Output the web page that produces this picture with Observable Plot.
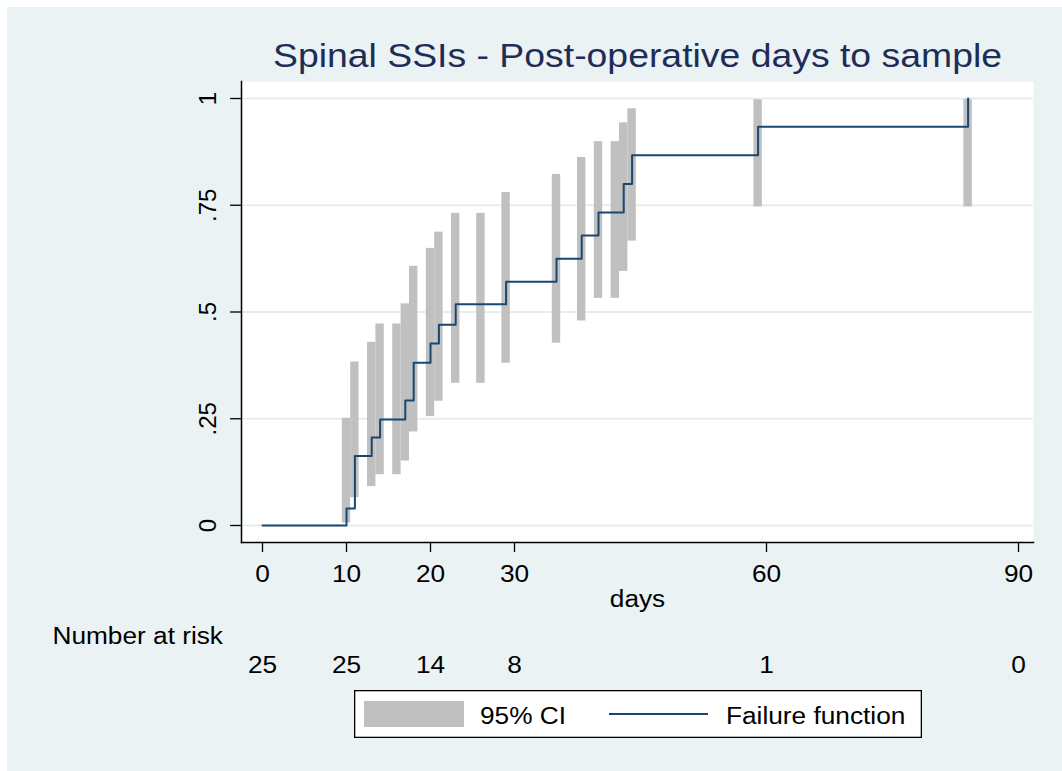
<!DOCTYPE html>
<html><head><meta charset="utf-8">
<script src="https://cdn.jsdelivr.net/npm/d3@7"></script>
<script src="https://cdn.jsdelivr.net/npm/@observablehq/plot@0.6"></script>
<style>
html,body{margin:0;padding:0;background:#fff;}
#wrap{position:absolute;left:7px;top:7px;width:1055px;height:764px;background:#eaf2f3;overflow:hidden;}
#chart{position:absolute;left:0;top:0;}
#legend{position:absolute;left:347px;top:683px;}
</style></head><body>
<div id="wrap"><div id="chart"></div><div id="legend"></div></div>
<script>
const title = "Spinal SSIs - Post-operative days to sample";
const xLabel = "days";
const riskLabel = "Number at risk";
const failTimes  = [0, 10, 11, 13, 14, 17, 18, 20, 21, 23, 29, 35, 38, 40, 43, 44, 59, 84];
const failValues = [0, 0.04, 0.163, 0.206, 0.248, 0.293, 0.381, 0.426, 0.470, 0.518, 0.571, 0.625, 0.679, 0.733, 0.800, 0.867, 0.934, 1.0];
const ciTimes = [10, 11, 13, 14, 16, 17, 18, 20, 21, 23, 26, 29, 35, 38, 40, 42, 43, 44, 59, 84];
const ciLower = [0.006, 0.065, 0.091, 0.119, 0.119, 0.151, 0.219, 0.255, 0.291, 0.333, 0.333, 0.380, 0.427, 0.479, 0.532, 0.532, 0.595, 0.666, 0.746, 0.746];
const ciUpper = [0.251, 0.383, 0.429, 0.472, 0.472, 0.519, 0.607, 0.649, 0.687, 0.731, 0.731, 0.780, 0.822, 0.862, 0.899, 0.899, 0.943, 0.976, 0.997, 0.998];
const xTicks = [0, 10, 20, 30, 60, 90];
const yTicks = [0, 0.25, 0.5, 0.75, 1];
const yTickLabels = ["0", ".25", ".5", ".75", "1"];
const riskTimes = [0, 10, 20, 30, 60, 90];
const riskCounts = [25, 25, 14, 8, 1, 0];
const legendLabels = ["95% CI", "Failure function"];

const font = "'Liberation Sans', Arial, Helvetica, sans-serif";
const navy = "#1a476f";
const ciGray = "#c0c0c0";
const FS = 23;
const failData = failTimes.map((t, i) => ({t, f: failValues[i]}));
const ciData = ciTimes.map((t, i) => ({t, lo: ciLower[i], hi: ciUpper[i]}));

const plot = Plot.plot({
  width: 1055, height: 676,
  marginLeft: 234, marginRight: 29, marginTop: 74, marginBottom: 141,
  style: {background: "#eaf2f3", fontFamily: font, fontSize: FS + "px", color: "black", overflow: "visible"},
  x: {domain: [0, 90], insetLeft: 21, insetRight: 15},
  y: {domain: [0, 1], insetTop: 17, insetBottom: 17},
  marks: [
    Plot.frame({fill: "white", stroke: "none"}),
    Plot.gridY(yTicks, {stroke: "#e4eef0", strokeOpacity: 1, strokeWidth: 2}),
    Plot.rect(ciData, {x1: d => d.t - 0.5, x2: d => d.t + 0.5, y1: "lo", y2: "hi", fill: ciGray}),
    Plot.line(failData, {x: "t", y: "f", curve: "step-after", stroke: navy, strokeWidth: 2}),
    Plot.axisX({ticks: xTicks, tickSize: 10, tickFormat: () => "", label: null, strokeWidth: 1.3}),
    Plot.axisY({ticks: yTicks, tickSize: 11, tickFormat: () => "", label: null, strokeWidth: 1.3}),
    Plot.frame({anchor: "left", strokeWidth: 1.5}),
    Plot.frame({anchor: "bottom", strokeWidth: 1.5}),
    Plot.text(xTicks, {x: d => d, text: d => String(d), frameAnchor: "bottom", dy: 39, lineAnchor: "bottom", fontSize: FS}),
    Plot.text(yTicks, {y: d => d, text: (d, i) => yTickLabels[i], frameAnchor: "left", dx: -33, rotate: -90, textAnchor: "middle", lineAnchor: "middle", fontSize: 24}),
    Plot.text([xLabel], {frameAnchor: "bottom", dy: 64, lineAnchor: "bottom", fontSize: FS}),
    Plot.text([riskLabel], {frameAnchor: "bottom-left", dx: -189, dy: 101, textAnchor: "start", lineAnchor: "bottom", fontSize: FS}),
    Plot.text(riskTimes, {x: d => d, text: (d, i) => String(riskCounts[i]), frameAnchor: "bottom", dy: 130, lineAnchor: "bottom", fontSize: FS}),
    Plot.text([title], {frameAnchor: "top", dy: -15, lineAnchor: "bottom", fontSize: 33, fill: "#1e2d57"})
  ]
});
document.getElementById("chart").append(plot);

const STRETCH = 1.14;
function stretchTexts(root) {
  d3.select(root).selectAll("text").each(function() {
    const t = this.textContent;
    if (!t) return;
    const tr = this.getAttribute("transform") || "";
    if (tr.includes("rotate")) return;
    const len = this.getComputedTextLength();
    const target = t === title ? 729 : len * STRETCH;
    this.setAttribute("textLength", target.toFixed(1));
    this.setAttribute("lengthAdjust", "spacingAndGlyphs");
  });
}
stretchTexts(plot);

const lg = d3.select("#legend").append("svg")
  .attr("width", 568).attr("height", 48)
  .style("display", "block").style("font-family", font).style("font-size", FS + "px");
lg.append("rect").attr("x", 0.65).attr("y", 0.65).attr("width", 566.7).attr("height", 46.7)
  .attr("fill", "white").attr("stroke", "black").attr("stroke-width", 1.3);
lg.append("rect").attr("x", 10).attr("y", 11).attr("width", 100).attr("height", 26).attr("fill", ciGray);
lg.append("text").attr("x", 126).attr("y", 34).text(legendLabels[0]);
lg.append("line").attr("x1", 255).attr("x2", 354).attr("y1", 24).attr("y2", 24)
  .attr("stroke", navy).attr("stroke-width", 2);
lg.append("text").attr("x", 372).attr("y", 34).text(legendLabels[1]);
stretchTexts(lg.node());
</script>
</body></html>
